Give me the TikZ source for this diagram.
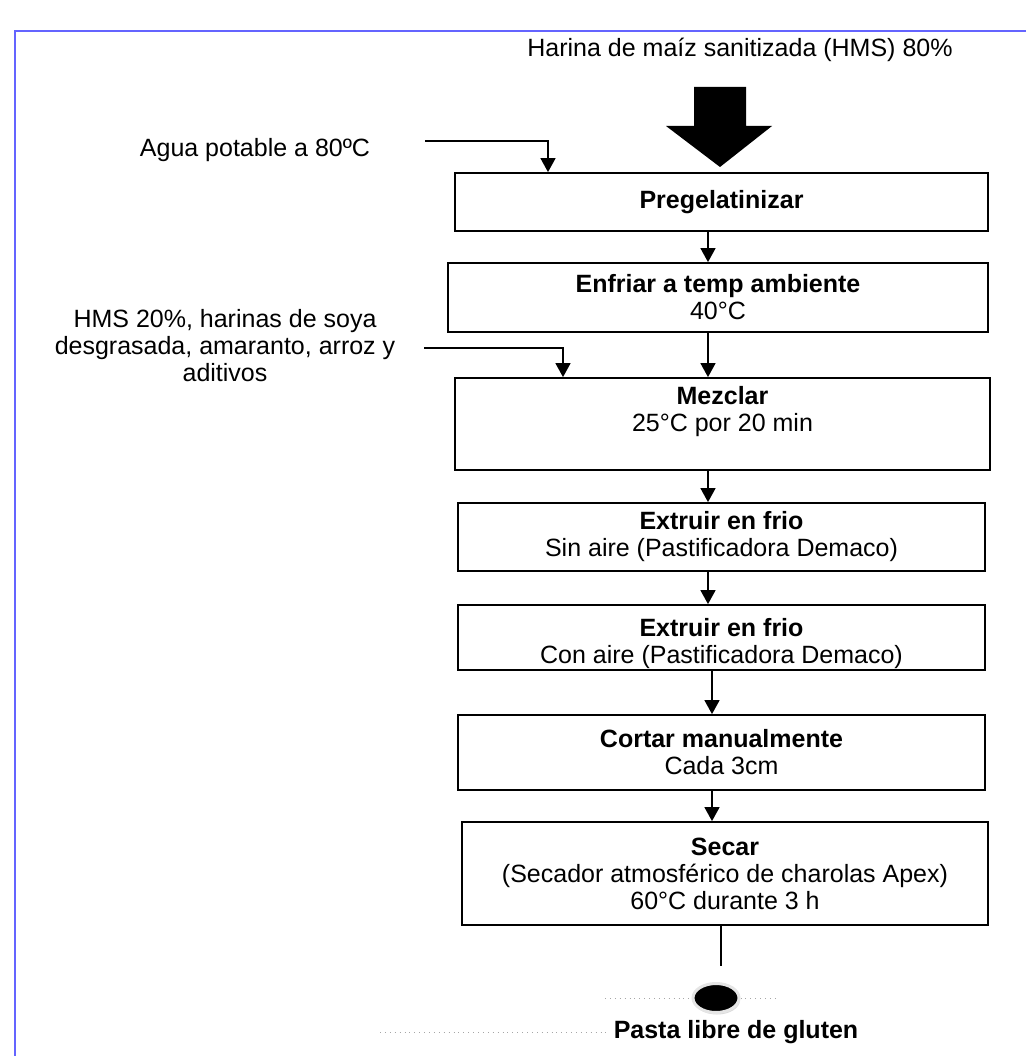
\documentclass[tikz,border=0pt]{standalone}
\usepackage{fontspec}
\setmainfont{Liberation Sans}
\usepackage{tikz}
\usetikzlibrary{arrows.meta,shapes.geometric,shadows,positioning}
\definecolor{frameblue}{RGB}{100,100,255}

\begin{document}
\begin{tikzpicture}[
    x=1pt, y=-1pt,
    font=\fontsize{25}{27}\selectfont,
    stepbox/.style={rectangle, draw, line width=1.8pt, align=center, inner sep=0pt},
    feed/.style={align=center},
    flow/.style={-{Triangle[length=14pt,width=15pt]}, line width=1.5pt},
    link/.style={line width=1.5pt},
    dots/.style={gray!70, line width=0.9pt, dash pattern=on 0.9pt off 4pt}
]
    \useasboundingbox (0,0) rectangle (1026,1056);
    \draw[frameblue, line width=2pt] (1026,31) -- (15,31) -- (15,1056);

    \node (harina) at (740,50) {Harina de maíz sanitizada (HMS) 80\%};
    \node[feed] (agua) at (255,150) {Agua potable a 80ºC};
    \node[feed] (hms) at (225,346) {HMS 20\%, harinas de soya\\desgrasada, amaranto, arroz y\\aditivos};

    \node[stepbox, minimum width=533, minimum height=58] (pregel) at (721.5,202) {\textbf{Pregelatinizar}};
    \node[stepbox, minimum width=540, minimum height=69] (enfriar) at (718,297.5) {\textbf{Enfriar a temp ambiente}\\40°C};
    \node[stepbox, minimum width=535, minimum height=92, text depth=30pt] (mezclar) at (722.5,424) {\textbf{Mezclar}\\25°C por 20 min};
    \node[stepbox, minimum width=527, minimum height=68] (sinaire) at (721.5,537) {\textbf{Extruir en frio}\\Sin aire (Pastificadora Demaco)};
    \node[stepbox, minimum width=527, minimum height=65, text height=57pt] (conaire) at (721.5,637.5) {\textbf{Extruir en frio}\\Con aire (Pastificadora Demaco)};
    \node[stepbox, minimum width=527, minimum height=75] (cortar) at (721.5,752.5) {\textbf{Cortar manualmente}\\Cada 3cm};
    \node[stepbox, minimum width=526, minimum height=103] (secar) at (725,873.5) {\textbf{Secar}\\(Secador atmosférico de charolas Apex)\\60°C durante 3 h};

    \node[ellipse, fill=black, draw=gray!20, line width=3pt, minimum width=46, minimum height=29,
        drop shadow={shadow xshift=1pt, shadow yshift=-2pt, opacity=0.3}] (fin) at (716,998) {};
    \node[font=\fontsize{25}{27}\selectfont\bfseries] (pasta) at (736,1032) {Pasta libre de gluten};

    \coordinate (bigtop) at (720,87);
    \fill (bigtop) ++(-26,0) -- ++(52,0) -- ++(0,39) -- ++(26,0) -- ++(-52,41) -- ++(-54,-41) -- ++(28,0) -- cycle;

    \coordinate (aguain) at (425,141);
    \coordinate (aguaturn) at (548,141);
    \draw[flow] (aguain) -- (aguaturn) -- (aguaturn |- pregel.north);
    \coordinate (hmsin) at (424,348);
    \coordinate (hmsturn) at (563,348);
    \draw[flow] (hmsin) -- (hmsturn) -- (hmsturn |- mezclar.north);

    \draw[flow] ([xshift=-13.5pt]pregel.south) -- ([xshift=-13.5pt]pregel.south |- enfriar.north);
    \draw[flow] ([xshift=-10pt]enfriar.south) -- ([xshift=-10pt]enfriar.south |- mezclar.north);
    \draw[flow] ([xshift=-14.5pt]mezclar.south) -- ([xshift=-14.5pt]mezclar.south |- sinaire.north);
    \draw[flow] ([xshift=-13.5pt]sinaire.south) -- ([xshift=-13.5pt]sinaire.south |- conaire.north);
    \draw[flow] ([xshift=-9.5pt]conaire.south) -- ([xshift=-9.5pt]conaire.south |- cortar.north);
    \draw[flow] ([xshift=-9.5pt]cortar.south) -- ([xshift=-9.5pt]cortar.south |- secar.north);
    \draw[link] ([xshift=-4pt]secar.south) -- ([xshift=5pt, yshift=16pt]fin.north);

    \draw[dots] (605,998) -- (fin.west);
    \draw[dots] (fin.east) -- (778,998);
    \draw[dots] (380,1032) -- (pasta.west);
\end{tikzpicture}
\end{document}
